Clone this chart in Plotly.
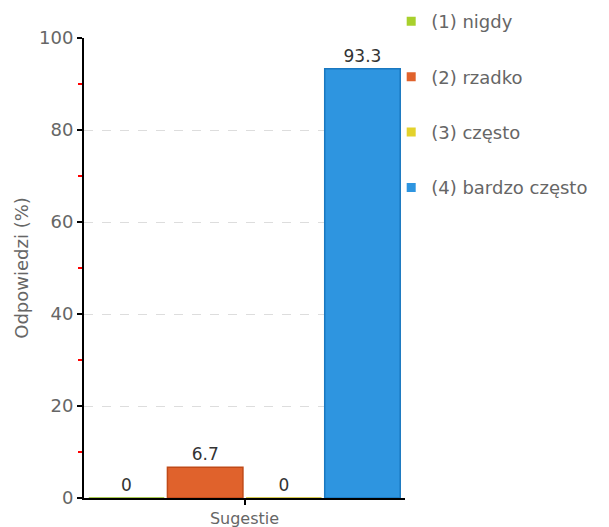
import plotly.graph_objects as go

categories = ["Sugestie"]
series_names = ["(1) nigdy", "(2) rzadko", "(3) często", "(4) bardzo często"]
series_values = [0, 6.7, 0, 93.3]
series_colors = ["#a8d02c", "#e0622c", "#e3d22c", "#2e95e0"]
series_lines = ["#8fb81a", "#c04a18", "#c8b818", "#1a78c0"]
y_ticks = [0, 20, 40, 60, 80, 100]

FONT = "DejaVu Sans"
fig = go.Figure()
for i, (name, val) in enumerate(zip(series_names, series_values)):
    fig.add_trace(go.Bar(
        x=categories, y=[val], name=name,
        marker=dict(color=series_colors[i], line=dict(color=series_lines[i], width=1.5)),
        text=[f"{val:g}"], textposition="outside", cliponaxis=False,
        textfont=dict(family=FONT, size=17, color="#333333"),
        showlegend=False, offsetgroup=str(i),
    ))
for i, name in enumerate(series_names):
    fig.add_trace(go.Scatter(
        x=[None], y=[None], mode="markers", name=name,
        marker=dict(symbol="square", size=9, color=series_colors[i]),
        legendgroup=str(i), showlegend=True,
    ))

fig.update_layout(
    width=601, height=519,
    margin=dict(l=76, r=204, t=30, b=29, autoexpand=False),
    plot_bgcolor="white", paper_bgcolor="white",
    barmode="group", bargap=0.02, bargroupgap=0.04,
    font=dict(family=FONT, color="#666666"),
    legend=dict(x=0.957, xanchor="left", y=1.076, yanchor="top",
                font=dict(family=FONT, size=18, color="#666666"),
                tracegroupgap=29, itemwidth=30, bgcolor="rgba(0,0,0,0)"),
    yaxis=dict(range=[0, 100], tickvals=y_ticks, showline=True, linecolor="black", linewidth=2,
               ticks="outside", ticklen=5, tickcolor="black", tickwidth=2, automargin=False,
               tickfont=dict(family=FONT, size=18, color="#666666"),
               showgrid=True, gridcolor="#dddddd", griddash="dash", gridwidth=1,
               zeroline=False,
               minor=dict(dtick=10, ticks="outside", ticklen=4, tickcolor="red", tickwidth=2, showgrid=False),
               title=dict(text="Odpowiedzi (%)", font=dict(family=FONT, size=18, color="#666666"), standoff=6)),
    xaxis=dict(showline=True, linecolor="black", linewidth=2, ticks="outside", ticklen=5,
               tickcolor="black", tickwidth=2, automargin=False,
               tickfont=dict(family=FONT, size=16, color="#666666"), showgrid=False),
)
fig.write_html("out.html")
